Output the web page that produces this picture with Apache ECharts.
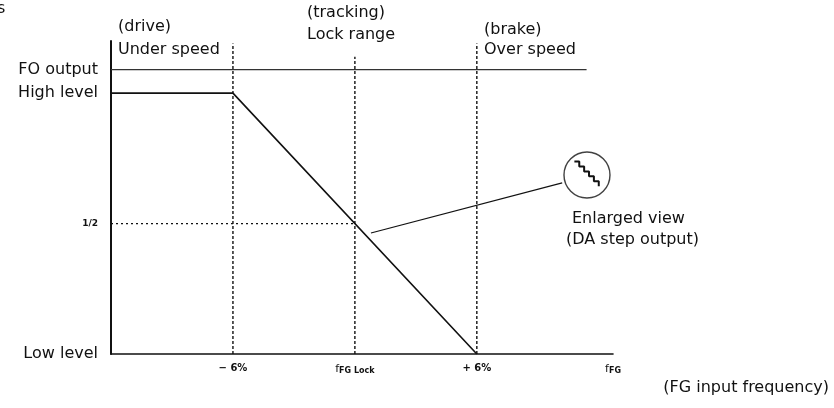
<!DOCTYPE html>
<html>
<head>
<meta charset="utf-8">
<script src="https://cdn.jsdelivr.net/npm/echarts@6/dist/echarts.min.js"></script>
<style>html,body{margin:0;padding:0;background:#fff;}#c{width:834px;height:408px;}</style>
</head>
<body>
<div id="c"></div>
<script>
// ---- data ----
const xTicks = [-6, 0, 6, 12.7];
const xTickLabels = ['{n|\u2212 6%}', '{f|f}{s|FG Lock}', '{n|+ 6%}', '{f|f}{s|FG}'];
const yTicks = [0, 0.5, 1, 1.09];
const yTickLabels = ['{b|Low level}', '{h|1/2}', '{b|High level}', '{b|FO output}'];
const responseX = [-12, -6, 6];
const responseY = [1, 1, 0];
const foLevel = 1.09;
const foRange = [-12, 11.4];
const guideX = [-6, 0, 6];
const guideTop = [1.19, 1.14, 1.19];
const halfLevel = 0.5;
const halfRange = [-12, 0];
const leaderLine = [[0.79, 0.464], [10.2, 0.656]];
const lensCenter = [11.42, 0.686];
const stepX = [10.80, 11.04, 11.04, 11.28, 11.28, 11.52, 11.52, 11.76, 11.76, 12.00, 12.00];
const stepY = [0.738, 0.738, 0.719, 0.719, 0.700, 0.700, 0.681, 0.681, 0.662, 0.662, 0.643];

const FONT = '"DejaVu Sans", "Liberation Sans", sans-serif';
const INK = '#111';

function zip(a, b) { return a.map((v, i) => [v, b[i]]); }
function lookup(vals, labels, v) {
  for (let i = 0; i < vals.length; i++) if (Math.abs(vals[i] - v) < 1e-6) return labels[i];
  return '';
}

const series = [];
// main response line
series.push({ type: 'line', data: zip(responseX, responseY), symbol: 'none',
  lineStyle: { color: INK, width: 1.6 }, z: 5, silent: true });
// FO output level
series.push({ type: 'line', data: [[foRange[0], foLevel], [foRange[1], foLevel]], symbol: 'none',
  lineStyle: { color: '#333', width: 1.2 }, silent: true });
// dashed verticals
guideX.forEach((x, i) => {
  series.push({ type: 'line', data: [[x, 0], [x, guideTop[i]]], symbol: 'none',
    lineStyle: { color: INK, width: 1.4, type: [3, 2] }, silent: true });
});
// 1/2 dotted horizontal
series.push({ type: 'line', data: [[halfRange[0], halfLevel], [halfRange[1], halfLevel]], symbol: 'none',
  lineStyle: { color: INK, width: 1.4, type: [2, 3] }, silent: true });
// leader line
series.push({ type: 'line', data: leaderLine, symbol: 'none',
  lineStyle: { color: INK, width: 1.2 }, silent: true });
// lens circle
series.push({ type: 'scatter', data: [lensCenter], symbol: 'circle', symbolSize: 46,
  itemStyle: { color: '#fff', borderColor: INK, borderWidth: 1.4 }, z: 6, silent: true });
// DA step staircase
series.push({ type: 'line', data: zip(stepX, stepY), symbol: 'none', smooth: 0.35,
  lineStyle: { color: INK, width: 2 }, z: 8, silent: true });

const textStyle = { font: '16px ' + FONT, fill: INK, textVerticalAlign: 'middle' };
function txt(x, y, s, align) {
  return { type: 'text', x: x, y: y,
    style: Object.assign({}, textStyle, { text: s, textAlign: align || 'left' }) };
}

const chart = echarts.init(document.getElementById('c'), null, { renderer: 'canvas' });
chart.setOption({
  animation: false,
  backgroundColor: '#fff',
  grid: { left: 111, right: 221, top: 41, bottom: 54 },
  xAxis: {
    type: 'value', min: -12, max: 12.7,
    axisLine: { show: true, onZero: false, lineStyle: { color: INK, width: 1.6 } },
    axisTick: { show: false }, splitLine: { show: false },
    axisLabel: {
      customValues: xTicks, margin: 9, color: INK,
      formatter: v => lookup(xTicks, xTickLabels, v),
      rich: {
        n: { fontFamily: FONT, fontSize: 10, fontWeight: 'bold', color: INK },
        f: { fontFamily: FONT, fontSize: 11, color: INK },
        s: { fontFamily: FONT, fontSize: 8, fontWeight: 'bold', color: INK, padding: [4, 0, 0, 0] }
      }
    }
  },
  yAxis: {
    type: 'value', min: 0, max: 1.2,
    axisLine: { show: true, onZero: false, lineStyle: { color: INK, width: 2 } },
    axisTick: { show: false }, splitLine: { show: false },
    axisLabel: {
      customValues: yTicks, margin: 13, color: INK,
      formatter: v => lookup(yTicks, yTickLabels, v),
      rich: {
        b: { fontFamily: FONT, fontSize: 16, color: INK },
        h: { fontFamily: FONT, fontSize: 9, fontWeight: 'bold', color: INK }
      }
    }
  },
  series: series,
  graphic: [
    txt(-3, 9, 's'),
    txt(118, 27, '(drive)'),
    txt(118, 50, 'Under speed'),
    txt(307, 13, '(tracking)'),
    txt(307, 35, 'Lock range'),
    txt(484, 30, '(brake)'),
    txt(484, 50, 'Over speed'),
    txt(572, 219, 'Enlarged view'),
    txt(566, 240, '(DA step output)'),
    txt(829, 388, '(FG input frequency)', 'right')
  ]
});
</script>
</body>
</html>
